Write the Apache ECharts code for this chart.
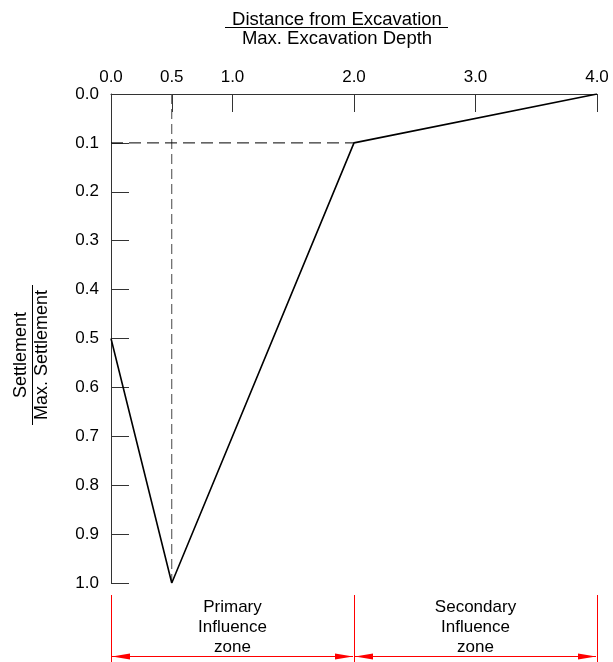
<!DOCTYPE html>
<html>
<head>
<meta charset="utf-8">
<script src="https://cdn.jsdelivr.net/npm/echarts@6/dist/echarts.min.js"></script>
<style>html,body{margin:0;padding:0;background:#fff}#c{width:613px;height:662px}</style>
</head>
<body>
<div id="c"></div>
<script>
// ---- data ----
const xTicks = [0, 0.5, 1, 2, 3, 4];
const profileX = [0, 0.5, 2, 4];
const profileY = [0.5, 1.0, 0.1, 0.0];
const guideVertical = [[0.5, 0], [0.5, 1.0]];
const guideHorizontal = [[0, 0.1], [2, 0.1]];
const zoneBounds = [0, 2, 4];
const zoneLabels = ['Primary\nInfluence\nzone', 'Secondary\nInfluence\nzone'];
const xTitleTop = 'Distance from Excavation';
const xTitleBottom = 'Max. Excavation Depth';
const yTitleTop = 'Settlement';
const yTitleBottom = 'Max. Settlement';

const FONT = 'Liberation Sans, Arial, sans-serif';
const chart = echarts.init(document.getElementById('c'), null, {renderer: 'canvas'});

chart.setOption({
  animation: false,
  grid: {left: 111, top: 94, right: 16, bottom: 79, containLabel: false},
  xAxis: {
    type: 'value', position: 'top', min: 0, max: 4, interval: 0.5,
    axisLine: {show: true, onZero: false, lineStyle: {color: '#333', width: 1}},
    axisTick: {show: true, inside: true, length: 18, customValues: xTicks, lineStyle: {color: '#333'}},
    axisLabel: {show: true, customValues: xTicks, margin: 8, fontSize: 17, color: '#000', fontFamily: FONT,
      formatter: v => Number(v).toFixed(1)},
    splitLine: {show: false}
  },
  yAxis: {
    type: 'value', inverse: true, min: 0, max: 1, interval: 0.1,
    axisLine: {show: true, onZero: false, lineStyle: {color: '#333', width: 1}},
    axisTick: {show: true, inside: true, length: 18, lineStyle: {color: '#333'}},
    axisLabel: {margin: 12, fontSize: 17, color: '#000', fontFamily: FONT,
      formatter: v => Number(v).toFixed(1)},
    splitLine: {show: false}
  },
  series: [
    {type: 'line', data: guideVertical, symbol: 'none', silent: true,
      lineStyle: {color: '#444', width: 1, type: [10, 5]}},
    {type: 'line', data: guideHorizontal, symbol: 'none', silent: true,
      lineStyle: {color: '#000', width: 1, type: [12, 6]}},
    {type: 'line', data: profileX.map((x, i) => [x, profileY[i]]), symbol: 'none',
      lineStyle: {color: '#000', width: 1.6}}
  ]
});

// annotations positioned via the axis scales
const px = v => chart.convertToPixel({xAxisIndex: 0}, v);
const py = v => chart.convertToPixel({yAxisIndex: 0}, v);
const yBottom = py(1.0);
const red = '#ff0000';
const g = [];

// axis titles (fractions)
const xTitleX = 337;
g.push({type: 'text', x: xTitleX, y: 20, style: {text: xTitleTop, font: '18.5px ' + FONT, fill: '#000', align: 'center', verticalAlign: 'middle'}});
g.push({type: 'line', shape: {x1: 225, y1: 27.5, x2: 448, y2: 27.5}, style: {stroke: '#000', lineWidth: 1}});
g.push({type: 'text', x: xTitleX, y: 39, style: {text: xTitleBottom, font: '18.5px ' + FONT, fill: '#000', align: 'center', verticalAlign: 'middle'}});

const yMid = 355;
g.push({type: 'text', x: 21, y: yMid, rotation: Math.PI / 2, style: {text: yTitleTop, font: '18px ' + FONT, fill: '#000', align: 'center', verticalAlign: 'middle'}});
g.push({type: 'line', shape: {x1: 32.5, y1: 285, x2: 32.5, y2: 425}, style: {stroke: '#000', lineWidth: 1}});
g.push({type: 'text', x: 42, y: yMid, rotation: Math.PI / 2, style: {text: yTitleBottom, font: '18px ' + FONT, fill: '#000', align: 'center', verticalAlign: 'middle'}});

// zone dimension lines
const arrowY = 656.5;
zoneBounds.forEach(b => {
  const x = Math.round(px(b)) + 0.5;
  g.push({type: 'line', shape: {x1: x, y1: yBottom + 12, x2: x, y2: 662}, style: {stroke: red, lineWidth: 1}});
});
for (let i = 0; i < zoneBounds.length - 1; i++) {
  const a = px(zoneBounds[i]) + 1, b = px(zoneBounds[i + 1]) - 1;
  g.push({type: 'line', shape: {x1: a, y1: arrowY, x2: b, y2: arrowY}, style: {stroke: red, lineWidth: 1}});
  g.push({type: 'polygon', shape: {points: [[a, arrowY], [a + 18, arrowY - 3], [a + 18, arrowY + 3]]}, style: {fill: red}});
  g.push({type: 'polygon', shape: {points: [[b, arrowY], [b - 18, arrowY - 3], [b - 18, arrowY + 3]]}, style: {fill: red}});
  g.push({type: 'text', x: (px(zoneBounds[i]) + px(zoneBounds[i + 1])) / 2, y: 627,
    style: {text: zoneLabels[i], font: '17px ' + FONT, lineHeight: 20, fill: '#000', align: 'center', verticalAlign: 'middle'}});
}
chart.setOption({graphic: g});
</script>
</body>
</html>
